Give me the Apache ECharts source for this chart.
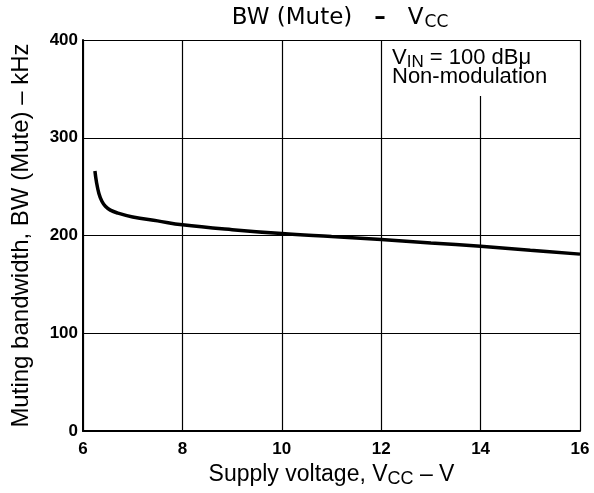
<!DOCTYPE html>
<html>
<head>
<meta charset="utf-8">
<script src="https://cdn.jsdelivr.net/npm/echarts@6/dist/echarts.min.js"></script>
<style>html,body{margin:0;padding:0;background:#fff}#c{width:594px;height:493px}</style>
</head>
<body>
<div id="c"></div>
<script>
const vcc = [6.24, 6.27, 6.32, 6.38, 6.45, 6.55, 6.7, 7.0, 7.5, 8, 9, 10, 11, 12, 13, 14, 15, 16];
const bw  = [266, 255, 243, 235, 230, 226, 223, 219, 215, 211, 206, 202, 199, 196, 192.5, 189, 185, 181];
const xTicks = [6, 8, 10, 12, 14, 16];
const yTicks = [0, 100, 200, 300, 400];

const chart = echarts.init(document.getElementById('c'));
const tickFont = { fontFamily: 'Liberation Sans', fontWeight: 'bold', fontSize: 17, color: '#000' };
chart.setOption({
  animation: false,
  backgroundColor: '#fff',
  title: {
    text: '{a|BW (Mute)}{d|–}{a|V}{s|CC}',
    left: 340, top: 5, textAlign: 'center', padding: 0,
    textStyle: {
      fontWeight: 'normal',
      rich: {
        a: { fontFamily: 'DejaVu Sans', fontWeight: 'normal', fontSize: 23, color: '#000' },
        d: { fontFamily: 'DejaVu Sans', fontWeight: 'bold', fontSize: 23, color: '#000', padding: [0, 22, 0, 22] },
        s: { fontFamily: 'DejaVu Sans', fontWeight: 'normal', fontSize: 17, color: '#000', padding: [9, 0, 0, 1] }
      }
    }
  },
  grid: { left: 83, right: 14, top: 40, bottom: 59 },
  xAxis: {
    type: 'value', min: 6, max: 16, interval: 2,
    name: '{m|Supply voltage, V}{s|CC}{m| – V}', nameLocation: 'middle', nameGap: 21,
    nameTextStyle: {
      rich: {
        m: { fontFamily: 'Liberation Sans', fontSize: 23, color: '#000' },
        s: { fontFamily: 'Liberation Sans', fontSize: 18, color: '#000', padding: [9, 0, 0, 0] }
      }
    },
    axisLine: { show: true, lineStyle: { color: '#000', width: 2 } },
    axisTick: { show: false },
    axisLabel: Object.assign({ margin: 10, formatter: v => xTicks.includes(v) ? String(v) : '' }, tickFont),
    splitLine: { show: true, lineStyle: { color: '#000', width: 1.2 } }
  },
  yAxis: {
    type: 'value', min: 0, max: 400, interval: 100,
    name: 'Muting bandwidth, BW (Mute) – kHz', nameLocation: 'middle', nameGap: 50,
    nameTextStyle: { fontFamily: 'Liberation Sans', fontSize: 24, color: '#000' },
    axisLine: { show: true, lineStyle: { color: '#000', width: 2 } },
    axisTick: { show: false },
    axisLabel: Object.assign({ margin: 5, formatter: v => yTicks.includes(v) ? String(v) : '' }, tickFont),
    splitLine: { show: true, lineStyle: { color: '#000', width: 1.2 } }
  },
  graphic: [
    { type: 'rect', shape: { x: 386, y: 41, width: 175, height: 55 }, style: { fill: '#fff' }, z: 10 },
    { type: 'text', left: 392, top: 45, z: 11,
      style: { text: '{m|V}{s|IN}{m| = 100 dBμ}\n{m|Non-modulation}', fill: '#000',
        rich: {
          m: { fontFamily: 'Liberation Sans', fontSize: 22, fill: '#000', lineHeight: 19 },
          s: { fontFamily: 'Liberation Sans', fontSize: 17, fill: '#000', padding: [9, 0, 0, 0], lineHeight: 19 }
        } } }
  ],
  series: [{
    type: 'line', smooth: 0.4, symbol: 'none',
    data: vcc.map((v, i) => [v, bw[i]]),
    lineStyle: { color: '#000', width: 3.5 }, z: 5
  }]
});
</script>
</body>
</html>
